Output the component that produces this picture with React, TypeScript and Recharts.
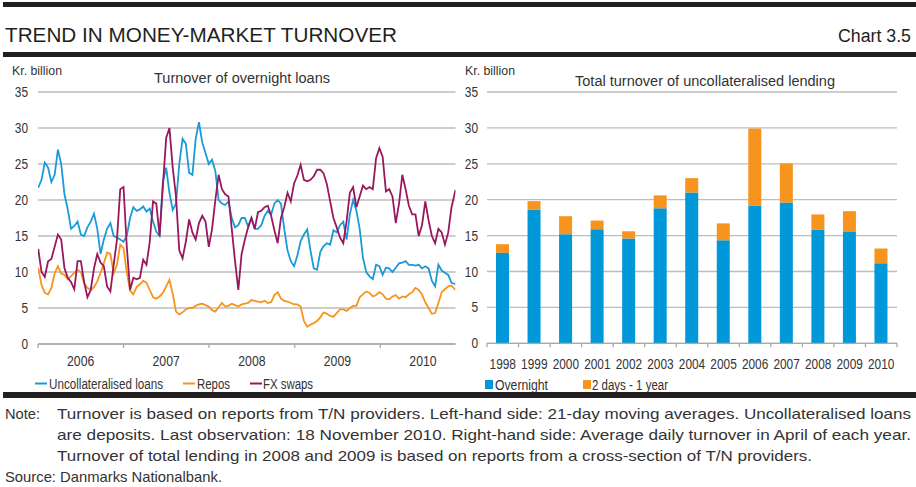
import React from 'react';
import { LineChart, Line, XAxis, YAxis, CartesianGrid, BarChart, Bar } from 'recharts';

// ---------- Left panel: turnover of overnight loans (21-day moving averages, Kr. billion) ----------
// Observations every 14 days from START_DATE, last observation on LAST_DATE
const START_DATE = '2006-01-02';
const STEP_DAYS = 14;
const LAST_DATE = '2010-11-18';

const uncollateralised = [
  21.7, 22.8, 25.2, 24.5, 22.5, 23.5, 27, 25, 20.8, 18.7,
  16, 16.4, 17, 15.2, 15, 16.2, 17, 18.1, 16, 12.5,
  14.5, 16, 16.8, 15, 14.8, 14.5, 14.2, 15, 17.5, 19,
  18.5, 18.7, 19.1, 18.4, 18.8, 17, 15.6, 15, 22.5, 24.5,
  21, 18.6, 19.5, 25, 28.5, 27.8, 23.8, 23.5, 28.5, 30.8,
  28, 26.5, 25, 25.6, 24, 20, 19.5, 19.3, 19.8, 17.5,
  16.2, 16.5, 17.5, 17.5, 16.3, 17.5, 16, 16, 16.5, 17.8,
  18.5, 18, 19.5, 20, 19.5, 16, 13, 11.5, 10.8, 12.3,
  14.3, 15.2, 15.9, 13, 10.5, 10.3, 12.8, 13.6, 14, 13.8,
  15.8, 15.5, 16.5, 17, 14.5, 18, 20, 18.5, 16, 12,
  10, 9.4, 9, 11, 10.8, 9.6, 10.6, 10.5, 10, 10.6,
  11.2, 11.3, 11.5, 11, 11, 10.9, 11, 10.5, 10.8, 10.5,
  8.8, 8, 11, 10.2, 9.9, 9.6, 8.5, 8.3,
];

const repos = [
  10.6, 8.2, 7.1, 6.9, 7.8, 9.8, 10.8, 9.8, 9.6, 9,
  9.4, 9.9, 10.3, 10, 8.4, 7.8, 7.5, 7.9, 8.7, 9.9,
  11.2, 12.7, 12.5, 9.8, 11, 13.8, 13.3, 10, 7.4, 6.9,
  7.9, 8.3, 8.8, 8.5, 7.5, 6.5, 6.3, 6.6, 7.1, 8,
  8.9, 7, 4.5, 4.1, 4.4, 4.8, 5, 5, 5.3, 5.5,
  5.6, 5.4, 5.2, 4.7, 4.5, 5.1, 5.7, 5.2, 5.3, 5.6,
  5.4, 5.2, 5.5, 5.6, 5.7, 6.1, 6, 5.9, 5.8, 6,
  5.7, 5.8, 6.8, 7.2, 6.3, 6, 5.9, 5.7, 5.5, 5.5,
  5.2, 3.2, 2.4, 2.7, 2.9, 3.2, 3.7, 4.4, 4.2, 3.9,
  3.8, 4.3, 4.8, 4.8, 4.6, 5, 5.3, 5.3, 6.5, 6.9,
  7.3, 7.1, 6.6, 6.8, 7.2, 6.9, 6.3, 6.2, 6.6, 6.8,
  6.3, 6.6, 6.5, 6.9, 7.2, 7.8, 7.5, 6.9, 5.8, 5,
  4.2, 4.3, 5.7, 7.2, 7.6, 8, 8.1, 7.5,
];

const fxSwaps = [
  13.2, 10, 9.3, 11.5, 11.8, 13.5, 15.2, 14.5, 10.5, 9.2,
  8.6, 7.6, 11.5, 11.5, 8.6, 6.5, 7.5, 10.5, 12.5, 11.3,
  10.8, 8, 7.3, 11, 14.5, 21.5, 21.8, 13.5, 7.5, 9.2,
  9, 9.2, 11.7, 11, 14.2, 19.8, 19.5, 15, 22, 28.6,
  30, 24.5, 20.5, 13, 11.9, 14.2, 17.3, 15.5, 14.5, 16.8,
  17.8, 17, 13.5, 16, 20, 23.5, 21.5, 20.8, 20.5, 16,
  11.5, 7.5, 12.5, 14.5, 16.2, 17.5, 16, 18.3, 18.5, 19,
  19.2, 17.8, 15.8, 14, 17.5, 19, 21, 19.8, 22.3, 23.4,
  24.9, 22.8, 22.6, 22.8, 23.3, 24.2, 24.2, 23.7, 22.2, 19.8,
  17.5, 16.2, 14.8, 14, 17, 21, 21.8, 19, 20.5, 22,
  21.5, 21.8, 21.5, 25.8, 27.2, 26, 21.2, 21.5, 20.5, 16.8,
  19.5, 23.5, 21.5, 19.2, 18, 18, 15, 16.5, 19.8, 17.2,
  15, 14, 16, 15.5, 13.8, 15.5, 19, 21.4,
];

const lineYears = [2006, 2007, 2008, 2009, 2010];

// ---------- Right panel: total turnover of uncollateralised lending (April averages) ----------
const barYears = ['1998', '1999', '2000', '2001', '2002', '2003', '2004', '2005', '2006', '2007', '2008', '2009', '2010'];
const overnight = [12.6, 18.65, 15.2, 15.9, 14.6, 18.8, 21.0, 14.35, 19.2, 19.6, 15.8, 15.5, 11.15];
const twoDaysToOneYear = [1.2, 1.15, 2.5, 1.2, 1.0, 1.8, 2.0, 2.35, 10.7, 5.45, 2.15, 2.9, 2.05];

const yTicks = [0, 5, 10, 15, 20, 25, 30, 35];

// ---------- build tables ----------
const DAY = 86400000;
const t0 = Date.parse(START_DATE);
const lineData = uncollateralised.map((u, i) => ({
  t: i === uncollateralised.length - 1 ? Date.parse(LAST_DATE) : t0 + i * STEP_DAYS * DAY,
  unc: u,
  repos: repos[i],
  fx: fxSwaps[i],
}));
const T_START = Date.UTC(lineYears[0], 0, 1);
const T_END = Date.parse(LAST_DATE);
const timeTicks: number[] = [];
lineYears.forEach((y) => {
  timeTicks.push(Date.UTC(y, 0, 1));
  timeTicks.push(Date.UTC(y, 6, 2));
});

const barData = barYears.map((y, i) => ({ year: y, overnight: overnight[i], longer: twoDaysToOneYear[i] }));

// ---------- styles ----------
const FONT = "'Liberation Sans Narrow','Arial Narrow','Liberation Sans',Arial,sans-serif";
const TXT = '#333333';
const DARK = '#231f20';
const GRID = '#bdbdbd';
const AXIS = '#a8a8a8';
const BLUE_LINE = '#1a9ad6';
const ORANGE = '#f7941d';
const MAGENTA = '#98185e';
const BAR_BLUE = '#0098d8';
const DIGIT_W = 6.8;

function TimeTick(props: any) {
  const { x, y, payload } = props;
  const d = new Date(payload.value);
  if (d.getUTCMonth() === 0) {
    return <line x1={x} x2={x} y1={y} y2={y + 4} stroke={AXIS} strokeWidth={1.3} />;
  }
  const s = String(d.getUTCFullYear());
  return (
    <text x={x} y={y + 21.5} textAnchor="middle" fontSize={15} fill={TXT} fontFamily={FONT}
      textLength={s.length * DIGIT_W} lengthAdjust="spacingAndGlyphs">
      {s}
    </text>
  );
}

function BandTick(props: any) {
  const { x, y, payload, index, visibleTicksCount, width } = props;
  const band = width && visibleTicksCount ? width / visibleTicksCount : 31.5;
  const s = String(payload.value);
  return (
    <g>
      <line x1={x - band / 2} x2={x - band / 2} y1={y} y2={y + 4} stroke={AXIS} strokeWidth={1.3} />
      {index === visibleTicksCount - 1 ? (
        <line x1={x + band / 2} x2={x + band / 2} y1={y} y2={y + 4} stroke={AXIS} strokeWidth={1.3} />
      ) : null}
      <text x={x} y={y + 26} textAnchor="middle" fontSize={15} fill={TXT} fontFamily={FONT}
        textLength={s.length * 6.6} lengthAdjust="spacingAndGlyphs">
        {s}
      </text>
    </g>
  );
}

function ValueTick(props: any) {
  const { x, y, payload } = props;
  const s = String(payload.value);
  return (
    <text x={x} y={y + 5} textAnchor="end" fontSize={15} fill={TXT} fontFamily={FONT}
      textLength={s.length * 6.6} lengthAdjust="spacingAndGlyphs">
      {s}
    </text>
  );
}

export default function App() {
  return (
    <div style={{ position: 'absolute', left: 0, top: 0, width: 916, height: 487, background: '#fff', overflow: 'hidden' }}>
      <div style={{ position: 'absolute', left: 0, top: 0 }}>
        <LineChart width={460} height={400} data={lineData} margin={{ top: 92, right: 4.5, bottom: 26, left: 8 }}>
          <CartesianGrid vertical={false} stroke={GRID} strokeWidth={1.3} />
          <XAxis
            dataKey="t"
            type="number"
            domain={[T_START, T_END]}
            allowDataOverflow
            ticks={timeTicks}
            interval={0}
            tick={TimeTick}
            tickLine={false}
            tickSize={0}
            tickMargin={0}
            axisLine={{ stroke: AXIS, strokeWidth: 1.3 }}
            height={30}
          />
          <YAxis
            domain={[0, 35]}
            ticks={yTicks}
            interval={0}
            width={30}
            axisLine={false}
            tickLine={false}
            tickSize={6}
            tickMargin={4}
            tick={ValueTick}
          />
          <Line dataKey="unc" stroke={BLUE_LINE} strokeWidth={1.8} dot={false} isAnimationActive={false} />
          <Line dataKey="repos" stroke={ORANGE} strokeWidth={1.8} dot={false} isAnimationActive={false} />
          <Line dataKey="fx" stroke={MAGENTA} strokeWidth={1.8} dot={false} isAnimationActive={false} />
        </LineChart>
      </div>
      <div style={{ position: 'absolute', left: 455, top: 0 }}>
        <BarChart width={461} height={400} data={barData} margin={{ top: 92, right: 19, bottom: 26.7, left: 8 }}>
          <CartesianGrid vertical={false} stroke={GRID} strokeWidth={1.3} />
          <XAxis
            dataKey="year"
            interval={0}
            tick={BandTick}
            tickLine={false}
            tickSize={0}
            tickMargin={0}
            axisLine={{ stroke: AXIS, strokeWidth: 1.3 }}
            height={30}
          />
          <YAxis
            domain={[0, 35]}
            ticks={yTicks}
            interval={0}
            width={24}
            axisLine={false}
            tickLine={false}
            tickSize={6}
            tickMargin={3}
            tick={ValueTick}
          />
          <Bar dataKey="overnight" stackId="a" fill={BAR_BLUE} barSize={13} isAnimationActive={false} />
          <Bar dataKey="longer" stackId="a" fill={ORANGE} barSize={13} isAnimationActive={false} />
        </BarChart>
      </div>
      <svg width={916} height={487} style={{ position: 'absolute', left: 0, top: 0, pointerEvents: 'none' }} fontFamily={FONT}>
        <rect x={3} y={2} width={913} height={5} fill={DARK} />
        <text x={5} y={42} fontSize={20} fill={DARK} textLength={392} lengthAdjust="spacingAndGlyphs">TREND IN MONEY-MARKET TURNOVER</text>
        <text x={838} y={42} fontSize={18} fill={DARK} textLength={73} lengthAdjust="spacingAndGlyphs">Chart 3.5</text>
        <rect x={3} y={52} width={913} height={5} fill={DARK} />

        <text x={12} y={75} fontSize={13} fill={TXT} textLength={50} lengthAdjust="spacingAndGlyphs">Kr. billion</text>
        <text x={154} y={83} fontSize={15.5} fill={TXT} textLength={176} lengthAdjust="spacingAndGlyphs">Turnover of overnight loans</text>
        <text x={465} y={75} fontSize={13} fill={TXT} textLength={50} lengthAdjust="spacingAndGlyphs">Kr. billion</text>
        <text x={575} y={86} fontSize={15.5} fill={TXT} textLength={260} lengthAdjust="spacingAndGlyphs">Total turnover of uncollateralised lending</text>

        <line x1={35} x2={47} y1={383.5} y2={383.5} stroke={BLUE_LINE} strokeWidth={2} />
        <text x={49} y={388.5} fontSize={14} fill={TXT} textLength={114} lengthAdjust="spacingAndGlyphs">Uncollateralised loans</text>
        <line x1={183} x2={195} y1={383.5} y2={383.5} stroke={ORANGE} strokeWidth={2} />
        <text x={197} y={388.5} fontSize={14} fill={TXT} textLength={33} lengthAdjust="spacingAndGlyphs">Repos</text>
        <line x1={250} x2={262} y1={383.5} y2={383.5} stroke={MAGENTA} strokeWidth={2} />
        <text x={263} y={388.5} fontSize={14} fill={TXT} textLength={50} lengthAdjust="spacingAndGlyphs">FX swaps</text>

        <rect x={485} y={380} width={8} height={9} fill={BAR_BLUE} />
        <text x={495} y={389.5} fontSize={14} fill={TXT} textLength={53} lengthAdjust="spacingAndGlyphs">Overnight</text>
        <rect x={583} y={380} width={8} height={9} fill={ORANGE} />
        <text x={592} y={389.5} fontSize={14} fill={TXT} textLength={76} lengthAdjust="spacingAndGlyphs">2 days - 1 year</text>

        <rect x={3} y={392} width={913} height={6} fill={DARK} />

        <text x={5} y={419} fontSize={15} fill={TXT} textLength={35} lengthAdjust="spacingAndGlyphs">Note:</text>
        <text x={57} y={419} fontSize={15} fill={TXT} textLength={854} lengthAdjust="spacingAndGlyphs">Turnover is based on reports from T/N providers. Left-hand side: 21-day moving averages. Uncollateralised loans</text>
        <text x={57} y={440} fontSize={15} fill={TXT} textLength={854} lengthAdjust="spacingAndGlyphs">are deposits. Last observation: 18 November 2010. Right-hand side: Average daily turnover in April of each year.</text>
        <text x={57} y={461} fontSize={15} fill={TXT} textLength={755} lengthAdjust="spacingAndGlyphs">Turnover of total lending in 2008 and 2009 is based on reports from a cross-section of T/N providers.</text>
        <text x={5} y={482} fontSize={15} fill={TXT} textLength={217} lengthAdjust="spacingAndGlyphs">Source: Danmarks Nationalbank.</text>
      </svg>
    </div>
  );
}
